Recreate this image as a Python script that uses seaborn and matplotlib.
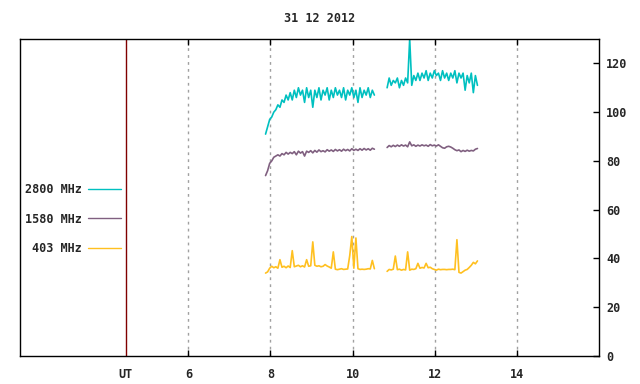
import pandas as pd
import seaborn as sns
import matplotlib.pyplot as plt
from matplotlib.lines import Line2D

# Dados (hora UT / fluxo)
titulo = "31 12 2012"
bandas = ["2800 MHz", "1580 MHz", "403 MHz"]
cores = ["#00c0c0", "#806080", "#ffc020"]

x_ticks = [6, 8, 10, 12, 14]
y_ticks = [0, 20, 40, 60, 80, 100, 120]
ut_pos = 4.47

# Segmento 1 (antes da falha) e segmento 2 (depois)
t_seg1 = [7.88, 7.93, 7.98, 8.03, 8.08, 8.13, 8.18, 8.23, 8.28, 8.33,
          8.38, 8.43, 8.48, 8.53, 8.58, 8.63, 8.68, 8.73, 8.78, 8.83,
          8.88, 8.93, 8.98, 9.03, 9.08, 9.13, 9.18, 9.23, 9.28, 9.33,
          9.38, 9.43, 9.48, 9.53, 9.58, 9.63, 9.68, 9.73, 9.78, 9.83,
          9.88, 9.93, 9.98, 10.03, 10.08, 10.13, 10.18, 10.23, 10.28, 10.33,
          10.38, 10.43, 10.48, 10.53]
t_seg2 = [10.84, 10.89, 10.94, 10.99, 11.04, 11.09, 11.14, 11.19, 11.24, 11.29,
          11.34, 11.39, 11.44, 11.49, 11.54, 11.59, 11.64, 11.69, 11.74, 11.79,
          11.84, 11.89, 11.94, 11.99, 12.04, 12.09, 12.14, 12.19, 12.24, 12.29,
          12.34, 12.39, 12.44, 12.49, 12.54, 12.59, 12.64, 12.69, 12.74, 12.79,
          12.84, 12.89, 12.94, 12.99, 13.04]

f2800_seg1 = [91, 94, 97, 98, 100, 101, 103, 102, 105, 104,
              107, 105, 108, 105, 109, 106, 110, 107, 109, 104,
              110, 106, 109, 102, 109, 106, 110, 105, 109, 107,
              110, 105, 109, 106, 110, 107, 109, 106, 110, 105,
              109, 107, 110, 106, 109, 104, 110, 106, 109, 107,
              110, 106, 109, 107]
f2800_seg2 = [110, 114, 111, 113, 112, 114, 110, 113, 111, 114,
              112, 130, 111, 115, 113, 116, 113, 116, 114, 117,
              113, 116, 114, 117, 115, 116, 113, 117, 114, 116,
              113, 116, 114, 117, 112, 116, 114, 116, 109, 115,
              112, 116, 108, 115, 111]

f1580_seg1 = [74, 76, 79, 80, 81.5, 82, 82.5, 82, 83, 82.5,
              83.5, 82.8, 83.5, 83, 83.8, 82.5, 84, 83.2, 83.8, 82,
              84, 83.5, 84.2, 83.3, 84.3, 83.6, 84.5, 83.8, 84.2, 83.7,
              84.6, 84, 84.5, 83.9, 84.7, 84.1, 84.6, 84, 84.8, 84.2,
              84.7, 84.1, 85, 84.3, 84.8, 84.3, 85, 84.4, 85.1, 84.5,
              85, 84.4, 85.2, 84.8]
f1580_seg2 = [85.5, 86.3, 85.8, 86.4, 85.9, 86.5, 86, 86.6, 86.1, 86.5,
              85.8, 87.8, 86.2, 86.6, 86, 86.5, 86.1, 86.6, 86.2, 86.5,
              86, 86.7, 86.2, 86.5, 86.1, 86.6, 86, 85.4, 85.2, 85.8,
              86, 85.7, 85.2, 84.6, 84.2, 84.5, 83.8, 84.3, 83.9, 84.4,
              84, 84.3, 84.1, 84.8, 85.1]

f403_seg1 = [34, 34.5, 36, 36.8, 36.2, 36.6, 36, 39.5, 36.4, 36.8,
             36.2, 36.9, 36.3, 43.2, 36.6, 36.9, 37.2, 36.6, 37, 36.5,
             39.5, 36.8, 37, 46.8, 37.2, 36.8, 37, 36.6, 36.8, 37.5,
             36.9, 36.5, 36, 42.7, 35.6, 35.4, 35.6, 35.8, 35.5, 35.6,
             35.7, 41.2, 49, 36, 48.4, 35.8, 35.5, 35.6, 35.5, 35.6,
             35.8, 35.7, 39.2, 35.8]
f403_seg2 = [34.7, 35.5, 35.3, 35.6, 41, 35.4, 35.6, 35.2, 35.5, 35.3,
             42.7, 35.2, 35.6, 35.5, 35.8, 38, 36, 36.3, 36.1, 38,
             36.2, 36.4, 35.8, 35.5, 35.2, 35.6, 35.4, 35.5, 35.5, 35.4,
             35.5, 35.5, 35.6, 35.4, 47.7, 34.3, 34, 34.6, 35.2, 35.5,
             36.3, 37.2, 38.4, 37.8, 39]

# Montando o dataframe longo
series = {
    "2800 MHz": (f2800_seg1, f2800_seg2),
    "1580 MHz": (f1580_seg1, f1580_seg2),
    "403 MHz": (f403_seg1, f403_seg2),
}
linhas = []
for banda, (s1, s2) in series.items():
    for seg, (tt, vv) in enumerate([(t_seg1, s1), (t_seg2, s2)]):
        for t, v in zip(tt, vv):
            linhas.append({"t": t, "fluxo": v, "banda": banda, "seg": seg})
df = pd.DataFrame(linhas)

sns.set_theme(style="white")
plt.rcParams["font.family"] = ["DejaVu Sans Mono"]
plt.rcParams["font.weight"] = "bold"

fig = plt.figure(figsize=(6.4, 3.84), dpi=100)
ax = fig.add_axes([20 / 640, 1 - 356 / 384, 579 / 640, 317 / 384])

paleta = dict(zip(bandas, cores))
sns.lineplot(data=df, x="t", y="fluxo", hue="banda", units="seg",
             estimator=None, palette=paleta, linewidth=1.2, legend=False, ax=ax)

ax.set_xlim(1.9, 16.0)
ax.set_ylim(0, 130)
ax.set_xlabel("")
ax.set_ylabel("")

# eixo x: grade pontilhada nos numeros, UT como tick menor
ax.set_xticks(x_ticks)
ax.set_xticklabels([str(v) for v in x_ticks])
ax.set_xticks([ut_pos], minor=True)
ax.set_xticklabels(["UT"], minor=True)
ax.axvline(ut_pos, color="#800000", lw=1)
ax.grid(axis="x", which="major", color="#a0a0a0", linestyle=(0, (2, 3)), lw=1)
ax.grid(axis="y", visible=False)
ax.tick_params(axis="x", which="major", direction="in", top=True, bottom=True,
               length=4, width=1, color="black", pad=9, labelsize=8.5)
ax.tick_params(axis="x", which="minor", length=0, pad=9, labelsize=8.5)

# eixo y a direita
ax.yaxis.tick_right()
ax.set_yticks(y_ticks)
ax.set_yticklabels([str(v) for v in y_ticks])
ax.tick_params(axis="y", direction="in", right=True, left=False,
               length=4, width=1, color="black", pad=5, labelsize=8.5)

for s in ax.spines.values():
    s.set_color("black")
    s.set_linewidth(1)

fig.text(0.5, 1 - 19 / 384, titulo, ha="center", va="center", fontsize=8.5)

handles = [Line2D([], [], color=c, lw=1) for c in cores]
ax.legend(handles, bandas, loc="center left", bbox_to_anchor=(0.008, 0.432),
          markerfirst=False, frameon=False, handlelength=2.8, handletextpad=0.5,
          labelspacing=1.38, borderpad=0, borderaxespad=0, fontsize=8.5)

fig.savefig("out.png", dpi=100)
